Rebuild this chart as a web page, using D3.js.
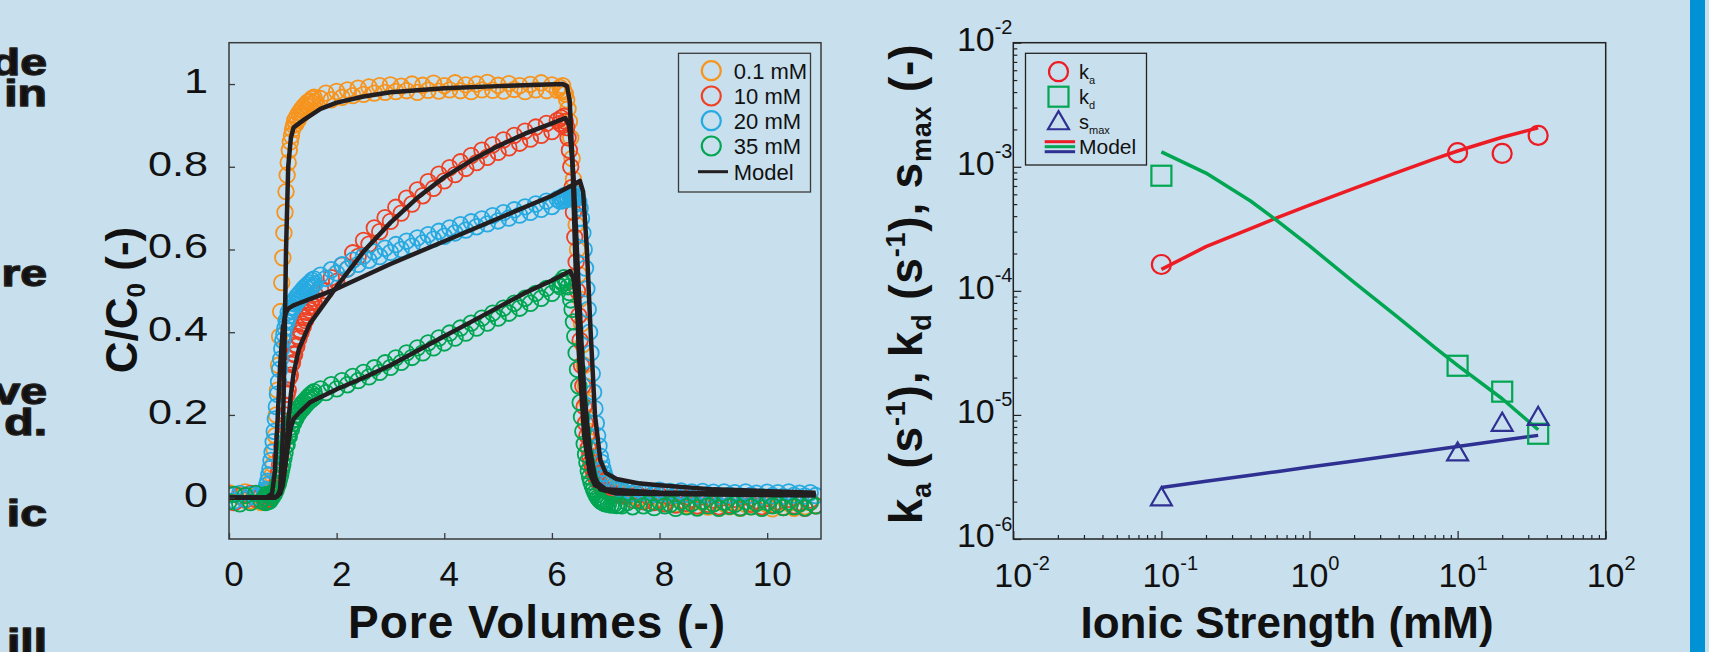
<!DOCTYPE html>
<html><head><meta charset="utf-8">
<script src="https://cdn.jsdelivr.net/npm/d3@7"></script>
<style>
html,body{margin:0;padding:0;background:#c8dfed;}
svg{display:block;}
text{font-family:"Liberation Sans",Arial,Helvetica,sans-serif;fill:#111;}
</style></head><body>
<svg id="c" width="1709" height="652"></svg>
<script>
// ---------- LEFT PANEL DATA: pore volumes (shared sampling grid) ----------
const pv = [0,0.1,0.2,0.3,0.4,0.5,0.6,
0.66,0.68,0.7,0.72,0.74,0.76,0.78,0.8,0.82,0.84,0.86,0.88,0.9,0.92,0.94,0.96,0.98,1,1.02,1.04,1.06,1.08,1.1,1.12,1.14,1.16,1.18,1.2,1.22,1.24,1.26,1.28,1.3,1.32,1.34,1.36,1.38,1.4,1.42,1.44,1.46,1.48,1.5,1.52,1.54,1.56,1.58,1.6,
1.7,1.8,1.9,2,2.1,2.2,2.3,2.4,2.5,2.6,2.7,2.8,2.9,3,3.1,3.2,3.3,3.4,3.5,3.6,3.7,3.8,3.9,4,4.1,4.2,4.3,4.4,4.5,4.6,4.7,4.8,4.9,5,5.1,5.2,5.3,5.4,5.5,5.6,5.7,5.8,5.9,6,6.1,
6.15,6.175,6.2,6.225,6.25,6.275,6.3,6.325,6.35,6.375,6.4,6.425,6.45,6.475,6.5,6.525,6.55,6.575,6.6,6.625,6.65,6.675,6.7,6.725,6.75,6.775,6.8,6.825,6.85,6.875,6.9,6.925,6.95,6.975,7,7.05,7.1,7.15,7.2,7.25,7.3,
7.4,7.5,7.6,7.7,7.8,7.9,8,8.1,8.2,8.3,8.4,8.5,8.6,8.7,8.8,8.9,9,9.1,9.2,9.3,9.4,9.5,9.6,9.7,9.8,9.9,10,10.1,10.2,10.3,10.4,10.5,10.6,10.7,10.8,10.9];

// C/C0 measured, 0.1 mM
const c01 = [0.012,-0.01,0.004,0.014,-0.008,0.006,-0.012,
0.006,-0.01,0.012,0.0,0.016,0.022,0.038,0.055,0.08,0.115,0.15,0.2,0.26,0.32,0.39,0.45,0.52,0.58,0.64,0.69,0.74,0.78,0.81,0.84,0.86,0.875,0.89,0.9,0.912,0.903,0.921,0.912,0.93,0.922,0.938,0.928,0.945,0.934,0.95,0.94,0.956,0.945,0.96,0.95,0.965,0.953,0.968,0.958,
0.965,0.978,0.962,0.982,0.968,0.986,0.972,0.99,0.975,0.993,0.978,0.996,0.98,0.998,0.982,0.995,0.984,1.0,0.98,0.997,0.985,1.002,0.983,0.996,0.986,1.003,0.984,0.998,0.982,1.0,0.986,1.004,0.985,0.997,0.983,1.001,0.987,0.996,0.982,0.999,0.986,1.003,0.984,0.998,0.985,
0.992,0.984,0.996,0.982,0.976,0.962,0.94,0.91,0.87,0.82,0.77,0.72,0.66,0.6,0.54,0.48,0.42,0.37,0.32,0.27,0.23,0.19,0.16,0.135,0.115,0.1,0.085,0.075,0.065,0.058,0.05,0.045,0.04,0.036,0.032,0.028,0.024,0.02,0.018,0.014,0.012,
0.01,0.004,-0.002,-0.006,0.002,-0.009,-0.003,-0.013,-0.005,-0.016,-0.008,-0.019,-0.01,-0.021,-0.012,-0.023,-0.014,-0.025,-0.015,-0.022,-0.012,-0.026,-0.016,-0.022,-0.013,-0.025,-0.017,-0.027,-0.015,-0.023,-0.014,-0.026,-0.016,-0.022,-0.012,-0.019];

// 10 mM
const c10 = [0.008,-0.012,0.004,-0.006,0.01,-0.004,0.006,
-0.01,0.005,-0.006,0.008,-0.004,0.006,0,0.01,0.008,0.015,0.02,0.03,0.045,0.06,0.08,0.1,0.125,0.15,0.175,0.2,0.222,0.25,0.26,0.29,0.296,0.322,0.326,0.348,0.346,0.37,0.366,0.39,0.385,0.405,0.4,0.42,0.414,0.435,0.428,0.448,0.441,0.46,0.453,0.472,0.464,0.482,0.474,0.492,
0.505,0.5,0.532,0.523,0.562,0.553,0.592,0.583,0.622,0.613,0.652,0.643,0.677,0.668,0.702,0.688,0.724,0.71,0.744,0.73,0.764,0.748,0.782,0.766,0.798,0.781,0.812,0.796,0.827,0.81,0.84,0.823,0.853,0.835,0.865,0.846,0.876,0.857,0.886,0.867,0.896,0.876,0.905,0.885,0.912,
0.905,0.918,0.9,0.922,0.91,0.895,0.87,0.84,0.8,0.75,0.69,0.63,0.57,0.5,0.44,0.38,0.32,0.27,0.22,0.18,0.15,0.12,0.1,0.085,0.07,0.06,0.052,0.045,0.04,0.035,0.03,0.026,0.022,0.02,0.018,0.015,0.012,0.01,0.008,0.006,0.004,
0.004,-0.006,0.008,-0.01,0.002,-0.012,0.006,-0.015,0.0,-0.018,0.004,-0.014,-0.004,-0.02,0.002,-0.016,-0.006,-0.022,0.0,-0.018,-0.004,-0.024,0.002,-0.016,-0.008,-0.022,-0.002,-0.018,-0.01,-0.024,-0.004,-0.02,-0.012,-0.026,-0.006,-0.02];

// 20 mM
const c20 = [0.006,-0.008,0.01,-0.004,0.008,0.002,0.012,
0.015,0.02,0.03,0.04,0.055,0.07,0.09,0.11,0.135,0.16,0.19,0.22,0.25,0.28,0.31,0.335,0.36,0.38,0.395,0.41,0.428,0.424,0.448,0.44,0.46,0.452,0.47,0.46,0.478,0.468,0.486,0.476,0.492,0.482,0.498,0.488,0.505,0.492,0.51,0.498,0.515,0.504,0.52,0.508,0.525,0.512,0.529,0.517,
0.538,0.53,0.551,0.543,0.563,0.553,0.574,0.564,0.584,0.574,0.594,0.583,0.603,0.593,0.612,0.6,0.62,0.608,0.628,0.616,0.636,0.625,0.644,0.632,0.652,0.64,0.66,0.647,0.667,0.655,0.674,0.662,0.682,0.669,0.689,0.676,0.696,0.683,0.703,0.69,0.71,0.697,0.717,0.704,0.722,
0.717,0.726,0.718,0.73,0.72,0.73,0.722,0.732,0.724,0.733,0.726,0.735,0.728,0.725,0.715,0.7,0.675,0.64,0.6,0.555,0.505,0.455,0.4,0.35,0.3,0.255,0.215,0.18,0.15,0.125,0.1,0.085,0.07,0.058,0.048,0.038,0.032,0.028,0.025,0.022,0.02,
0.018,0.01,0.02,0.012,0.016,0.008,0.018,0.01,0.015,0.006,0.016,0.008,0.014,0.004,0.015,0.007,0.013,0.003,0.014,0.006,0.012,0.004,0.014,0.006,0.011,0.002,0.013,0.005,0.012,0.003,0.014,0.006,0.011,0.004,0.012,0.005];

// 35 mM
const c35 = [-0.01,0.008,-0.015,0.005,-0.012,0.01,-0.008,
0,-0.012,0.008,-0.01,0.005,-0.008,0.01,0,0.012,0.008,0.015,0.02,0.028,0.035,0.045,0.055,0.068,0.08,0.095,0.108,0.126,0.128,0.15,0.148,0.17,0.165,0.186,0.18,0.198,0.19,0.208,0.2,0.216,0.208,0.224,0.214,0.23,0.22,0.236,0.226,0.242,0.232,0.247,0.236,0.252,0.24,0.256,0.245,
0.263,0.254,0.273,0.263,0.283,0.273,0.293,0.283,0.303,0.292,0.314,0.303,0.326,0.315,0.338,0.327,0.35,0.339,0.362,0.35,0.374,0.362,0.386,0.374,0.398,0.386,0.41,0.398,0.422,0.41,0.434,0.422,0.446,0.434,0.458,0.446,0.47,0.458,0.482,0.47,0.494,0.482,0.506,0.494,0.516,
0.51,0.524,0.518,0.532,0.526,0.52,0.51,0.496,0.478,0.455,0.425,0.39,0.35,0.31,0.27,0.23,0.195,0.16,0.13,0.105,0.085,0.065,0.05,0.038,0.028,0.02,0.012,0.006,0,-0.004,-0.008,-0.01,-0.012,-0.014,-0.015,-0.016,-0.018,-0.017,-0.019,-0.018,-0.02,
-0.012,-0.022,-0.008,-0.02,-0.014,-0.024,-0.01,-0.02,-0.016,-0.026,-0.01,-0.022,-0.014,-0.025,-0.009,-0.02,-0.015,-0.026,-0.011,-0.021,-0.016,-0.025,-0.01,-0.022,-0.014,-0.026,-0.012,-0.02,-0.017,-0.024,-0.01,-0.022,-0.015,-0.025,-0.011,-0.02];

// model curves (black)
const m01X = [0,0.8,0.9,0.95,1.0,1.03,1.06,1.1,1.15,1.2,1.3,1.41,1.7,2.0,2.5,3.0,4.0,5.0,6.2,6.28,6.33,6.38,6.43,6.5,6.6,6.7,6.8,7.0,8.0,10.9];
const m01Y = [0,0,0.003,0.02,0.15,0.35,0.6,0.8,0.87,0.895,0.905,0.915,0.94,0.955,0.97,0.98,0.99,0.995,1.0,0.995,0.96,0.82,0.6,0.35,0.15,0.06,0.03,0.018,0.012,0.008];
const m10X = [0,0.85,0.95,1.0,1.05,1.1,1.15,1.2,1.3,1.5,2.0,2.5,3.0,3.5,4.0,4.5,5.0,5.5,6.0,6.25,6.32,6.4,6.5,6.6,6.7,6.8,7.0,8.0,10.9];
const m10Y = [0,0,0.01,0.04,0.1,0.18,0.25,0.3,0.36,0.42,0.51,0.595,0.665,0.725,0.775,0.815,0.85,0.88,0.905,0.918,0.9,0.78,0.5,0.25,0.1,0.04,0.02,0.012,0.008];
const m20X = [0,0.7,0.8,0.85,0.9,0.95,1.0,1.05,1.1,1.2,1.3,1.5,2.0,3.0,4.0,5.0,6.0,6.45,6.52,6.58,6.65,6.72,6.8,6.9,7.0,7.2,7.6,8.0,9.0,10.9];
const m20Y = [0,0,0.01,0.06,0.18,0.32,0.41,0.445,0.457,0.465,0.47,0.48,0.505,0.565,0.62,0.675,0.73,0.76,0.766,0.74,0.6,0.4,0.2,0.09,0.06,0.045,0.035,0.03,0.02,0.012];
const m35X = [0,0.85,0.95,1.0,1.05,1.1,1.15,1.2,1.3,1.5,2.0,2.5,3.0,3.5,4.0,4.5,5.0,5.5,6.0,6.34,6.4,6.5,6.6,6.7,6.8,6.9,7.2,10.9];
const m35Y = [0,0,0.01,0.03,0.08,0.13,0.17,0.19,0.205,0.23,0.262,0.29,0.32,0.355,0.39,0.425,0.46,0.495,0.525,0.548,0.53,0.42,0.25,0.12,0.05,0.02,0.01,0.005];

const seriesNames = ["0.1 mM","10 mM","20 mM","35 mM"];
const xTicksL = [0,2,4,6,8,10];
const yTicksL = [0,0.2,0.4,0.6,0.8,1];
const yTickLabelsL = ["0","0.2","0.4","0.6","0.8","1"];

// ---------- RIGHT PANEL DATA ----------
const ionic = [0.1, 10, 20, 35];
const ka = [1.63e-4, 1.30e-3, 1.28e-3, 1.79e-3];
const kd = [8.47e-4, 2.49e-5, 1.54e-5, 7.05e-6];
const smax = [2.15e-6, 4.94e-6, 8.57e-6, 9.55e-6];
const modelI = [0.1, 0.2, 0.4, 0.6, 1, 2, 4, 7, 10, 20, 35];
const kaModel = [1.49e-4, 2.27e-4, 3.18e-4, 3.87e-4, 4.9e-4, 6.7e-4, 9.1e-4, 1.16e-3, 1.34e-3, 1.73e-3, 2.06e-3];
const kdModel = [1.32e-3, 8.9e-4, 5.3e-4, 3.7e-4, 2.3e-4, 1.17e-4, 6.05e-5, 3.5e-5, 2.51e-5, 1.35e-5, 7.6e-6];
const smaxModel = [2.6e-6, 2.92e-6, 3.27e-6, 3.49e-6, 3.8e-6, 4.26e-6, 4.78e-6, 5.24e-6, 5.56e-6, 6.24e-6, 6.84e-6];
const xExpR = ["-2","-1","0","1","2"];
const yExpR = ["-6","-5","-4","-3","-2"];

const sideText = ["de","in","re","ve","d.","ic","ill"];

// ---------- DRAW ----------
const svg = d3.select("#c");
svg.append("rect").attr("width",1709).attr("height",652).attr("fill","#c8dfed");
svg.append("rect").attr("x",1690).attr("y",0).attr("width",15).attr("height",652).attr("fill","#0092d5");

const sideY = [75,106,286,404,435,526,655];
svg.append("g").selectAll("text").data(sideText).join("text")
  .attr("transform",(d,i)=>`translate(47,${sideY[i]}) scale(1.3,1)`).attr("text-anchor","end")
  .attr("font-size",37).attr("font-weight","bold").attr("fill","#231f20")
  .attr("stroke","#231f20").attr("stroke-width",1.4).attr("stroke-linejoin","round").text(d=>d);

const INK = "#3a3a3a";
// ===== left plot =====
const xL = d3.scaleLinear().domain([0,11]).range([229,821]);
const yL = d3.scaleLinear().domain([-0.1,1.1]).range([539,42.7]);
const defs = svg.append("defs");
defs.append("clipPath").attr("id","clipL").append("rect")
  .attr("x",229).attr("y",42.7).attr("width",592).attr("height",496.3);

const colorsL = ["#f7941d","#ef4123","#27aae1","#00a651"];
const measured = [c01,c10,c20,c35];
const gData = svg.append("g").attr("clip-path","url(#clipL)");
measured.forEach((ys,k)=>{
  gData.append("g").selectAll("circle").data(d3.zip(pv,ys)).join("circle")
    .attr("cx",d=>xL(d[0])).attr("cy",d=>yL(d[1])).attr("r",7.8)
    .attr("fill","none").attr("stroke",colorsL[k]).attr("stroke-width",1.8);
});
const lineL = d3.line().x(d=>xL(d[0])).y(d=>yL(d[1]));
[[m01X,m01Y],[m10X,m10Y],[m20X,m20Y],[m35X,m35Y]].forEach(m=>{
  gData.append("path").attr("d",lineL(d3.zip(m[0],m[1]))).attr("fill","none")
    .attr("stroke","#231f20").attr("stroke-width",4.5).attr("stroke-linejoin","round");
});

const gAxL = svg.append("g");
gAxL.append("g").attr("transform","translate(0,539)")
  .call(d3.axisBottom(xL).tickValues(xTicksL).tickSize(-6).tickFormat(""))
  .call(g=>{g.select(".domain").remove();g.selectAll("line").attr("stroke",INK).attr("stroke-width",1.3);});
gAxL.append("g").attr("transform","translate(229,0)")
  .call(d3.axisLeft(yL).tickValues(yTicksL).tickSize(-6).tickFormat(""))
  .call(g=>{g.select(".domain").remove();g.selectAll("line").attr("stroke",INK).attr("stroke-width",1.3);});
gAxL.append("rect").attr("x",229).attr("y",42.7).attr("width",592).attr("height",496.3)
  .attr("fill","none").attr("stroke",INK).attr("stroke-width",1.5);
gAxL.selectAll("text.xl").data(xTicksL).join("text").attr("class","xl")
  .attr("x",d=>xL(d)+5).attr("y",586).attr("text-anchor","middle").attr("font-size",35).text(d=>d);
gAxL.selectAll("text.yl").data(yTicksL).join("text").attr("class","yl")
  .attr("transform",d=>`translate(208,${yL(d)+9}) scale(1.2,1)`)
  .attr("text-anchor","end").attr("font-size",36).text((d,i)=>yTickLabelsL[i]);

// titles
const yt = svg.append("text").attr("transform","translate(137,300) rotate(-90)")
  .attr("text-anchor","middle").attr("font-size",44).attr("font-weight","bold");
yt.append("tspan").text("C/C");
yt.append("tspan").attr("font-size",26).attr("dy",8).text("0");
yt.append("tspan").attr("dy",-8).text(" (-)");
svg.append("text").attr("x",537).attr("y",638).attr("text-anchor","middle")
  .attr("font-size",46).attr("letter-spacing",1).attr("font-weight","bold").text("Pore Volumes (-)");

// legend left
const lg = svg.append("g");
lg.append("rect").attr("x",678.5).attr("y",53.3).attr("width",132).attr("height",138.7)
  .attr("fill","#c8dfed").attr("stroke",INK).attr("stroke-width",1.3);
const lgY = [70.7,96,120.7,146,171.7];
seriesNames.forEach((n,i)=>{
  lg.append("circle").attr("cx",711.3).attr("cy",lgY[i]).attr("r",9.5).attr("fill","none")
    .attr("stroke",colorsL[i]).attr("stroke-width",2.2);
  lg.append("text").attr("x",733.8).attr("y",lgY[i]+8).attr("font-size",22).text(n);
});
lg.append("line").attr("x1",698).attr("x2",728).attr("y1",lgY[4]).attr("y2",lgY[4])
  .attr("stroke","#231f20").attr("stroke-width",3);
lg.append("text").attr("x",733.8).attr("y",lgY[4]+8).attr("font-size",22).text("Model");

// ===== right plot =====
const xR = d3.scaleLog().domain([0.01,100]).range([1013.3,1605.7]);
const yR = d3.scaleLog().domain([1e-6,1e-2]).range([539,42.7]);
const gR = svg.append("g");
const isMajor = v => Math.abs(Math.log10(v) - Math.round(Math.log10(v))) < 1e-9;
const styleAx = g=>{g.select(".domain").remove();g.selectAll("line").attr("stroke","#222").attr("stroke-width",1.2);};
gR.append("g").attr("transform","translate(0,539)")
  .call(d3.axisBottom(xR).tickValues(xR.ticks().filter(v=>!isMajor(v))).tickSize(-4).tickFormat("")).call(styleAx);
gR.append("g").attr("transform","translate(0,539)")
  .call(d3.axisBottom(xR).tickValues(xR.ticks().filter(isMajor)).tickSize(-8).tickFormat("")).call(styleAx);
gR.append("g").attr("transform","translate(1013.3,0)")
  .call(d3.axisLeft(yR).tickValues(yR.ticks().filter(v=>!isMajor(v))).tickSize(-4).tickFormat("")).call(styleAx);
gR.append("g").attr("transform","translate(1013.3,0)")
  .call(d3.axisLeft(yR).tickValues(yR.ticks().filter(isMajor)).tickSize(-8).tickFormat("")).call(styleAx);
gR.append("rect").attr("x",1013.3).attr("y",42.7).attr("width",592.4).attr("height",496.3)
  .attr("fill","none").attr("stroke","#222").attr("stroke-width",1.5);

const majX = xR.ticks().filter(isMajor);
majX.forEach((v,i)=>{
  const t = gR.append("text").attr("x",xR(v)-19).attr("y",586.7).attr("font-size",34);
  t.append("tspan").text("10");
  t.append("tspan").attr("font-size",20).attr("dy",-16.5).text(xExpR[i]);
});
const majY = yR.ticks().filter(isMajor);
majY.forEach((v,i)=>{
  const t = gR.append("text").attr("x",1012.5).attr("y",yR(v)+8).attr("text-anchor","end").attr("font-size",34);
  t.append("tspan").text("10");
  t.append("tspan").attr("font-size",20).attr("dy",-16.5).text(yExpR[i]);
});

const RED="#ed1c24", GRN="#00a651", NAVY="#2e3192";
const lineR = d3.line().x(d=>xR(d[0])).y(d=>yR(d[1]));
[[kaModel,RED],[kdModel,GRN],[smaxModel,NAVY]].forEach(m=>{
  gR.append("path").attr("d",lineR(d3.zip(modelI,m[0]))).attr("fill","none")
    .attr("stroke",m[1]).attr("stroke-width",3.5).attr("stroke-linejoin","round");
});
gR.selectAll("circle.ka").data(d3.zip(ionic,ka)).join("circle").attr("class","ka")
  .attr("cx",d=>xR(d[0])).attr("cy",d=>yR(d[1])).attr("r",9.5)
  .attr("fill","none").attr("stroke",RED).attr("stroke-width",2.2);
gR.selectAll("rect.kd").data(d3.zip(ionic,kd)).join("rect").attr("class","kd")
  .attr("x",d=>xR(d[0])-10).attr("y",d=>yR(d[1])-10).attr("width",20).attr("height",20)
  .attr("fill","none").attr("stroke",GRN).attr("stroke-width",2.2);
const tri = d3.symbol().type(d3.symbolTriangle).size(190);
gR.selectAll("path.sm").data(d3.zip(ionic,smax)).join("path").attr("class","sm")
  .attr("transform",d=>`translate(${xR(d[0])},${yR(d[1])+1.5})`).attr("d",tri())
  .attr("fill","none").attr("stroke",NAVY).attr("stroke-width",2.2);

// right titles
const yt2 = svg.append("text").attr("transform","translate(922,284) rotate(-90)")
  .attr("text-anchor","middle").attr("font-size",46).attr("letter-spacing",0.8).attr("font-weight","bold");
const parts = [["k",0],["a",1],[" (s",0],["-1",2],["), k",0],["d",1],[" (s",0],["-1",2],["), s",0],["max",1],[" (-)",0]];
let cur = 0;
parts.forEach(p=>{
  const target = p[1]===1 ? 9 : (p[1]===2 ? -17 : 0);
  const ts = yt2.append("tspan").attr("dy",target-cur).text(p[0]);
  if (p[1]) ts.attr("font-size",27);
  cur = target;
});
svg.append("text").attr("x",1287).attr("y",638).attr("text-anchor","middle")
  .attr("font-size",44).attr("font-weight","bold").text("Ionic Strength (mM)");

// legend right
const lr = svg.append("g");
lr.append("rect").attr("x",1025.5).attr("y",53.3).attr("width",121).attr("height",111.7)
  .attr("fill","#c8dfed").attr("stroke","#222").attr("stroke-width",1.3);
const lrY = [71.7,96.7,121.7,146.7];
lr.append("circle").attr("cx",1058.5).attr("cy",lrY[0]).attr("r",9.5).attr("fill","none").attr("stroke",RED).attr("stroke-width",2.2);
lr.append("rect").attr("x",1048.5).attr("y",lrY[1]-10).attr("width",20).attr("height",20).attr("fill","none").attr("stroke",GRN).attr("stroke-width",2.2);
lr.append("path").attr("transform",`translate(1058.5,${lrY[2]+1.5})`).attr("d",tri()).attr("fill","none").attr("stroke",NAVY).attr("stroke-width",2.2);
[[RED,-5],[GRN,0],[NAVY,5]].forEach(c=>{
  lr.append("line").attr("x1",1044.7).attr("x2",1075.1).attr("y1",lrY[3]+c[1]).attr("y2",lrY[3]+c[1])
    .attr("stroke",c[0]).attr("stroke-width",3);
});
const legTxt = [["k","a"],["k","d"],["s","max"]];
legTxt.forEach((p,i)=>{
  const t = lr.append("text").attr("x",1079).attr("y",lrY[i]+7).attr("font-size",20)
    .attr("font-family","'Liberation Sans Narrow','Liberation Sans',sans-serif");
  t.append("tspan").text(p[0]);
  t.append("tspan").attr("font-size",11).attr("dy",5).text(p[1]);
});
lr.append("text").attr("x",1079).attr("y",lrY[3]+7).attr("font-size",21)
  .attr("font-family","'Liberation Sans Narrow','Liberation Sans',sans-serif").text("Model");
</script>
</body></html>
